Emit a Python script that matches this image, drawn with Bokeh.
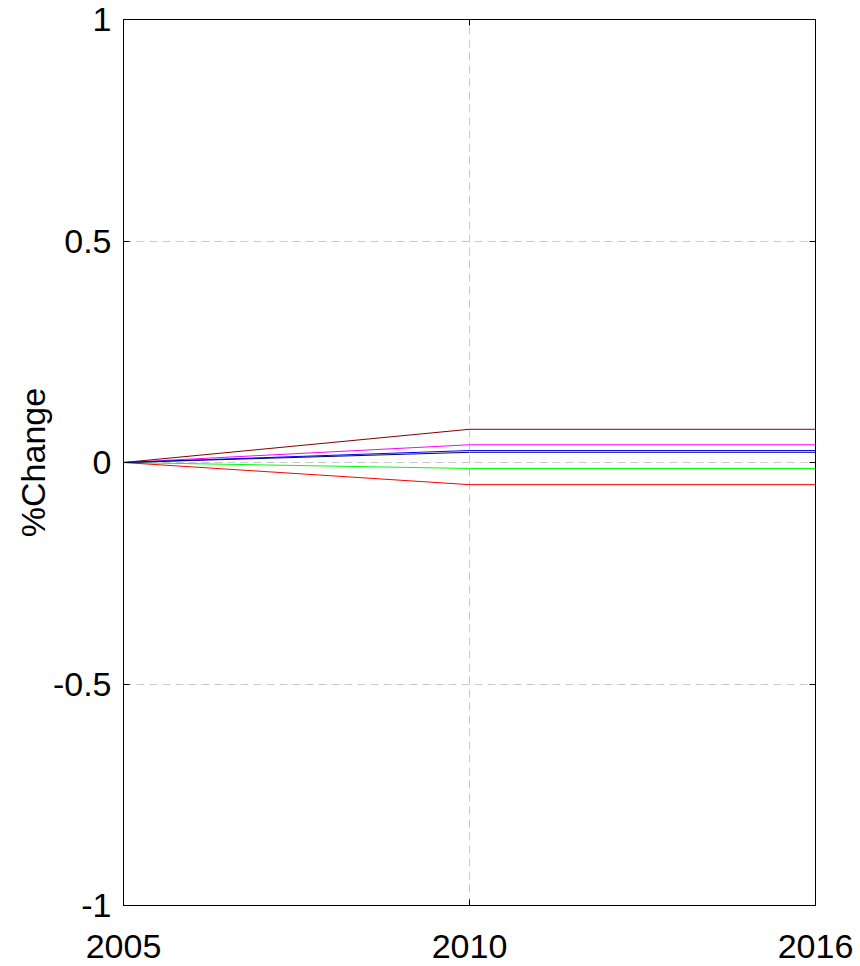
from bokeh.plotting import figure
from bokeh.models import LinearAxis, FixedTicker, Range1d
from bokeh.embed import file_html
from bokeh.resources import INLINE

# ---- data ----
year_labels = ["2005", "2010", "2016"]
x_idx = [0, 1, 2]
y_ticks = [-1, -0.5, 0, 0.5, 1]
y_tick_labels = ["-1", "-0.5", "0", "0.5", "1"]

series_maroon = [0.0, 0.075, 0.075]
series_magenta = [0.0, 0.040, 0.040]
series_blue = [0.0, 0.027, 0.027]
series_navy = [0.0, 0.023, 0.023]
series_green = [0.0, -0.0135, -0.0135]
series_red = [0.0, -0.050, -0.050]

series = [
    (series_maroon, "#800000"),
    (series_magenta, "#FF00FF"),
    (series_green, "#00FF00"),
    (series_red, "#FF0000"),
    (series_blue, "#0000FF"),
    (series_navy, "#00008B"),
]

FONT = "Liberation Sans"
FS = "34px"

p = figure(width=860, height=966, output_backend="svg", toolbar_location=None,
           x_range=Range1d(0, 2), y_range=Range1d(-1, 1),
           min_border_left=123, min_border_right=45, min_border_top=19,
           min_border_bottom=61)
p.background_fill_color = "white"
p.border_fill_color = "white"
p.outline_line_color = "black"
p.outline_line_width = 1

for ys, c in series:
    p.line(x_idx, ys, line_color=c, line_width=1)

# grid
for g in (p.xgrid, p.ygrid):
    g.grid_line_color = "#c8c8c8"
    g.grid_line_dash = "8 5"
    g.grid_line_width = 1
p.xgrid.ticker = FixedTicker(ticks=x_idx)
p.ygrid.ticker = FixedTicker(ticks=y_ticks)

def style(ax):
    ax.major_tick_in = 6
    ax.major_tick_out = 0
    ax.minor_tick_line_color = None
    ax.major_tick_line_color = "black"
    ax.axis_line_color = "black"
    ax.major_label_text_font = FONT
    ax.major_label_text_font_size = FS
    ax.major_label_text_color = "black"

xa = p.xaxis[0]
xa.ticker = FixedTicker(ticks=x_idx)
xa.major_label_overrides = {i: lab for i, lab in zip(x_idx, year_labels)}
style(xa)
xa.major_label_standoff = 29

ya = p.yaxis[0]
ya.ticker = FixedTicker(ticks=y_ticks)
ya.major_label_overrides = {t: lab for t, lab in zip(y_ticks, y_tick_labels)}
style(ya)
ya.major_label_standoff = 12
ya.axis_label = "%Change"
ya.axis_label_text_font = FONT
ya.axis_label_text_font_size = FS
ya.axis_label_text_font_style = "normal"
ya.axis_label_text_color = "black"
ya.axis_label_standoff = -2

# mirrored tick-only axes
ra = LinearAxis(ticker=FixedTicker(ticks=y_ticks))
style(ra)
ra.major_label_overrides = {t: "" for t in y_ticks}
ra.major_label_standoff = 0
p.add_layout(ra, "right")

ta = LinearAxis(ticker=FixedTicker(ticks=x_idx))
style(ta)
ta.major_label_overrides = {i: "" for i in x_idx}
ta.major_label_standoff = 0
p.add_layout(ta, "above")

open("out.html", "w").write(file_html(p, INLINE))
